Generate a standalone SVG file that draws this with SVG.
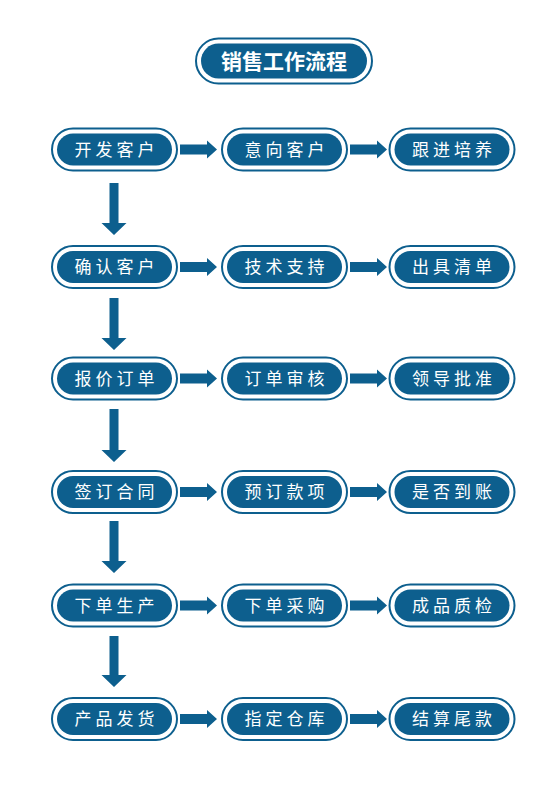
<svg xmlns="http://www.w3.org/2000/svg" width="560" height="792" viewBox="0 0 560 792">
<style>
.o{fill:#fff;stroke:#0d5f8e;stroke-width:2}
.i{fill:#0d5f8e}
.t{fill:#fff;font-family:"Noto Sans CJK SC","Noto Sans",sans-serif;font-size:17px;letter-spacing:4px;text-anchor:middle}
.tt{fill:#fff;font-family:"Noto Sans CJK SC","Noto Sans",sans-serif;font-size:21px;font-weight:bold;text-anchor:middle}
.a{fill:#0d5f8e}
</style>
<defs>
<g id="pill">
<rect class="o" x="-62.5" y="-21" width="125" height="42" rx="21"/>
<rect class="i" x="-57.5" y="-16" width="115" height="32" rx="16"/>
</g>
</defs>
<rect width="560" height="792" fill="#fff"/>
<g id="title">
<rect class="o" x="196" y="38.5" width="176" height="45" rx="22.5"/>
<rect class="i" x="201" y="43.5" width="166" height="35" rx="17.5"/>
<text class="tt" x="284" y="68.5">销售工作流程</text>
</g>
<g id="connectors">
<polygon class="a" points="180,144.5 207,144.5 207,140.5 217,149.5 207,158.5 207,154.5 180,154.5"/>
<polygon class="a" points="350,144.5 377,144.5 377,140.5 387,149.5 377,158.5 377,154.5 350,154.5"/>
<polygon class="a" points="180,262 207,262 207,258 217,267 207,276 207,272 180,272"/>
<polygon class="a" points="350,262 377,262 377,258 387,267 377,276 377,272 350,272"/>
<polygon class="a" points="180,373.5 207,373.5 207,369.5 217,378.5 207,387.5 207,383.5 180,383.5"/>
<polygon class="a" points="350,373.5 377,373.5 377,369.5 387,378.5 377,387.5 377,383.5 350,383.5"/>
<polygon class="a" points="180,487 207,487 207,483 217,492 207,501 207,497 180,497"/>
<polygon class="a" points="350,487 377,487 377,483 387,492 377,501 377,497 350,497"/>
<polygon class="a" points="180,600.5 207,600.5 207,596.5 217,605.5 207,614.5 207,610.5 180,610.5"/>
<polygon class="a" points="350,600.5 377,600.5 377,596.5 387,605.5 377,614.5 377,610.5 350,610.5"/>
<polygon class="a" points="180,714 207,714 207,710 217,719 207,728 207,724 180,724"/>
<polygon class="a" points="350,714 377,714 377,710 387,719 377,728 377,724 350,724"/>
<polygon class="a" points="109.5,183 118.5,183 118.5,223 126.5,223 114,235 101.5,223 109.5,223"/>
<polygon class="a" points="109.5,298 118.5,298 118.5,338 126.5,338 114,350 101.5,338 109.5,338"/>
<polygon class="a" points="109.5,409 118.5,409 118.5,450 126.5,450 114,462 101.5,450 109.5,450"/>
<polygon class="a" points="109.5,521 118.5,521 118.5,561 126.5,561 114,573 101.5,561 109.5,561"/>
<polygon class="a" points="109.5,636 118.5,636 118.5,675 126.5,675 114,687 101.5,675 109.5,675"/>
</g>
<g id="n1" transform="translate(114.5,149.5)"><use href="#pill"/><text class="t" x="2" y="6">开发客户</text></g>
<g id="n2" transform="translate(284.5,149.5)"><use href="#pill"/><text class="t" x="2" y="6">意向客户</text></g>
<g id="n3" transform="translate(452,149.5)"><use href="#pill"/><text class="t" x="2" y="6">跟进培养</text></g>
<g id="n4" transform="translate(114.5,267)"><use href="#pill"/><text class="t" x="2" y="6">确认客户</text></g>
<g id="n5" transform="translate(284.5,267)"><use href="#pill"/><text class="t" x="2" y="6">技术支持</text></g>
<g id="n6" transform="translate(452,267)"><use href="#pill"/><text class="t" x="2" y="6">出具清单</text></g>
<g id="n7" transform="translate(114.5,378.5)"><use href="#pill"/><text class="t" x="2" y="6">报价订单</text></g>
<g id="n8" transform="translate(284.5,378.5)"><use href="#pill"/><text class="t" x="2" y="6">订单审核</text></g>
<g id="n9" transform="translate(452,378.5)"><use href="#pill"/><text class="t" x="2" y="6">领导批准</text></g>
<g id="n10" transform="translate(114.5,492)"><use href="#pill"/><text class="t" x="2" y="6">签订合同</text></g>
<g id="n11" transform="translate(284.5,492)"><use href="#pill"/><text class="t" x="2" y="6">预订款项</text></g>
<g id="n12" transform="translate(452,492)"><use href="#pill"/><text class="t" x="2" y="6">是否到账</text></g>
<g id="n13" transform="translate(114.5,605.5)"><use href="#pill"/><text class="t" x="2" y="6">下单生产</text></g>
<g id="n14" transform="translate(284.5,605.5)"><use href="#pill"/><text class="t" x="2" y="6">下单采购</text></g>
<g id="n15" transform="translate(452,605.5)"><use href="#pill"/><text class="t" x="2" y="6">成品质检</text></g>
<g id="n16" transform="translate(114.5,719)"><use href="#pill"/><text class="t" x="2" y="6">产品发货</text></g>
<g id="n17" transform="translate(284.5,719)"><use href="#pill"/><text class="t" x="2" y="6">指定仓库</text></g>
<g id="n18" transform="translate(452,719)"><use href="#pill"/><text class="t" x="2" y="6">结算尾款</text></g>
</svg>
